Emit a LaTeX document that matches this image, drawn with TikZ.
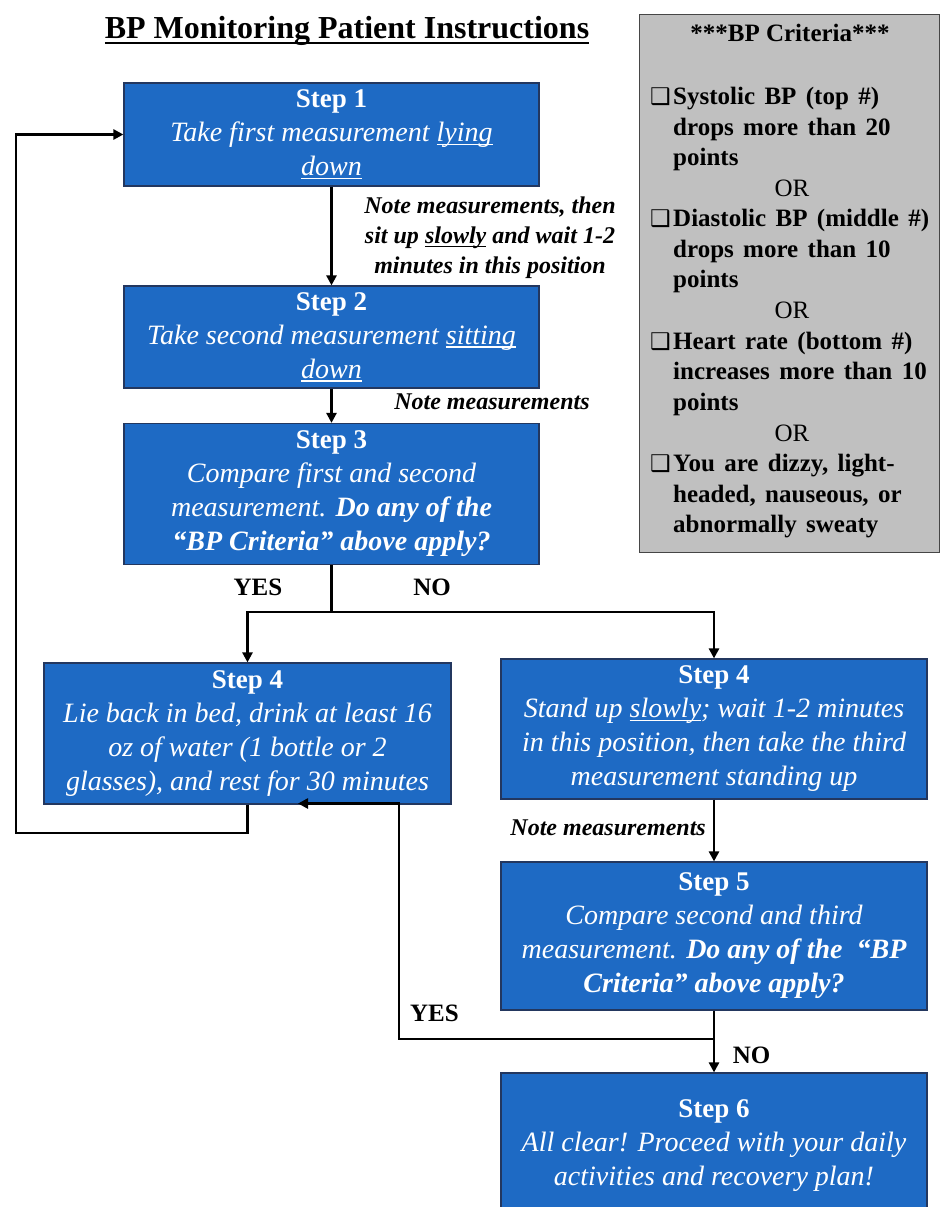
\documentclass[tikz,border=0pt]{standalone}
\usepackage{fontspec}
\setmainfont{Liberation Serif}
\newfontfamily\dejavu{DejaVu Sans}
\newfontfamily\critfont[WordSpace=1.5]{Liberation Serif}
\usetikzlibrary{arrows.meta}
\definecolor{boxblue}{RGB}{30,106,196}
\definecolor{boxedge}{RGB}{35,55,95}
\definecolor{critgray}{RGB}{192,192,192}
\definecolor{critedge}{RGB}{70,70,70}
\newcommand\myul[1]{\setbox0\hbox{#1}\rlap{\rule[-3.5pt]{\wd0}{1.6pt}}\box0\relax}
\newcommand\myulT[1]{\setbox0\hbox{#1}\rlap{\rule[-5pt]{\wd0}{2.4pt}}\box0\relax}
\newcommand\sttl[1]{{\fontsize{27}{34}\selectfont\upshape\bfseries #1}}
\newcommand\bx{{\dejavu\fontsize{23}{23}\selectfont ❑}}
\tikzset{
  stepbox/.style={draw=boxedge, line width=1.2pt, fill=boxblue, text=white, align=center, inner sep=0pt,
                  font=\fontsize{28}{34}\selectfont\itshape},
  flow/.style={draw=black, line width=2.6pt, line join=miter},
  arr/.style={flow, -{Triangle[length=10pt,width=10pt]}},
  lab/.style={font=\fontsize{24}{30}\selectfont\bfseries\itshape, align=center, inner sep=0pt},
  yn/.style={font=\fontsize{25}{30}\selectfont\bfseries, inner sep=0pt},
  crit/.style={font=\critfont\fontsize{25}{30}\selectfont\bfseries, inner sep=0pt, anchor=base west},
  critor/.style={font=\fontsize{25}{30}\selectfont, inner sep=0pt, anchor=base},
  critbx/.style={inner sep=0pt, anchor=base west}
}
\begin{document}
\begin{tikzpicture}[x=1pt,y=-1pt]
\useasboundingbox (0,0) rectangle (940,1207);

% title
\node[inner sep=0pt, anchor=base] (title) at (347,39) {\fontsize{32}{36}\selectfont\bfseries\myulT{BP Monitoring Patient Instructions}};

% criteria box
\node[draw=critedge, line width=1.2pt, fill=critgray, minimum width=300pt, minimum height=538pt, anchor=north west, inner sep=0pt] (crit) at (639,14) {};
\node[inner sep=0pt, anchor=base] (ctitle) at (790,42) {\fontsize{25}{30}\selectfont\bfseries ***BP Criteria***};
\node[critbx] (b1) at (650,104) {\bx};
\node[crit] (c1) at (673,104) {Systolic BP (top \#)};
\node[crit] (c2) at (673,135) {drops more than 20};
\node[crit] (c3) at (673,165) {points};
\node[critor] (o1) at (792,196) {OR};
\node[critbx] (b2) at (650,226) {\bx};
\node[crit] (c4) at (673,226) {Diastolic BP (middle \#)};
\node[crit] (c5) at (673,257) {drops more than 10};
\node[crit] (c6) at (673,287) {points};
\node[critor] (o2) at (792,318) {OR};
\node[critbx] (b3) at (650,349) {\bx};
\node[crit] (c7) at (673,349) {Heart rate (bottom \#)};
\node[crit] (c8) at (673,379) {increases more than 10};
\node[crit] (c9) at (673,410) {points};
\node[critor] (o3) at (792,441) {OR};
\node[critbx] (b4) at (650,471) {\bx};
\node[crit] (c10) at (673,471) {You are dizzy, light-};
\node[crit] (c11) at (673,502) {headed, nauseous, or};
\node[crit] (c12) at (673,532) {abnormally sweaty};

% step boxes
\node[stepbox, minimum width=415pt, minimum height=103pt] (s1) at (331.5,134.5)
  {\sttl{Step 1}\\ Take first measurement \myul{lying}\\ \myul{down}};
\node[stepbox, minimum width=415pt, minimum height=102pt] (s2) at (331.5,337)
  {\sttl{Step 2}\\ Take second measurement \myul{sitting}\\ \myul{down}};
\node[stepbox, minimum width=415pt, minimum height=141pt] (s3) at (331.5,494)
  {\sttl{Step 3}\\ Compare first and second\\ measurement. \textbf{Do any of the}\\ \textbf{“BP Criteria” above apply?}};
\node[stepbox, minimum width=407pt, minimum height=141pt] (s4l) at (247.5,733.5)
  {\sttl{Step 4}\\ Lie back in bed, drink at least 16\\ oz of water (1 bottle or 2\\ glasses), and rest for 30 minutes};
\node[stepbox, minimum width=426pt, minimum height=140pt] (s4r) at (714,729)
  {\sttl{Step 4}\\ Stand up \myul{slowly}; wait 1-2 minutes\\ in this position, then take the third\\ measurement standing up};
\node[stepbox, minimum width=426pt, minimum height=148pt] (s5) at (714,936)
  {\sttl{Step 5}\\ Compare second and third\\ measurement. \textbf{Do any of the \ “BP}\\ \textbf{Criteria” above apply?}};
\node[stepbox, minimum width=426pt, minimum height=150pt, text depth=0pt] (s6) at (714,1148) {};
\node[inner sep=0pt, text=white, align=center, font=\fontsize{28}{34}\selectfont\itshape] (s6t) at (714,1146)
  {\sttl{Step 6}\\ All clear! Proceed with your daily\\ activities and recovery plan!};

% labels
\node[lab] (n1) at (490,238) {Note measurements, then\\ sit up \myul{slowly} and wait 1-2\\ minutes in this position};
\node[lab] (n2) at (492,402) {Note measurements};
\node[lab, anchor=east] (n3) at (706,828) {Note measurements};
\node[yn] (yes1) at (258,587) {YES};
\node[yn] (no1) at (432,587) {NO};
\node[yn] (yes2) at (434.5,1013) {YES};
\node[yn] (no2) at (751.5,1055) {NO};

% connectors
\coordinate (j) at (331.5,612);
\coordinate (lb) at (16,833);
\coordinate (k) at (714,1039);
\coordinate (rb) at (399,1039);
\coordinate (rt) at (298,803.5);
\draw[arr] (s1) -- (s2);
\draw[arr] (s2) -- (s3);
\draw[flow] (s3.south) -- (j);
\draw[arr] (j) -| (s4l.north);
\draw[arr] (j) -| (s4r.north);
\draw[arr] (s4l.south) |- (lb) |- (s1.west);
\draw[arr] (s4r) -- (s5);
\draw[arr] (s5) -- (s6);
\draw[arr] (k) -- (rb) |- (rt);
\end{tikzpicture}
\end{document}
